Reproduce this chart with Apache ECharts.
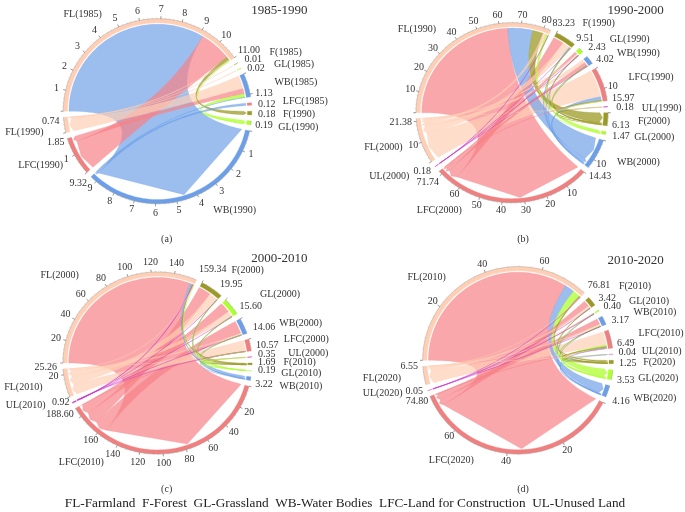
<!DOCTYPE html>
<html><head><meta charset="utf-8">
<style>html,body{margin:0;padding:0;background:#fff}#c{width:685px;height:512px}</style>
<script src="https://cdn.jsdelivr.net/npm/echarts@6/dist/echarts.min.js"></script>
</head><body><div id="c"></div>
<script>
// ---------- data ----------
const nodesA = ['FL(1985)','F(1985)','GL(1985)','WB(1985)','LFC(1985)','F(1990)','GL(1990)','WB(1990)','LFC(1990)','FL(1990)'];
const totalsA = ['11.00','0.01','0.02','1.13','0.12','0.18','0.19','9.32','1.85','0.74'];
const tickLabelsA = [[1,2,3,4,5,6,7,8,9,10],[],[],[],[],[],[],[1,2,3,4,5,6,7,8,9],[1],[]];
const linksA = [['FL','WB',9.18],['FL','LFC',1.58],['FL','F',0.18],['FL','FL',0.04],['FL','GL',0.02],
  ['F','FL',0.01],['GL','FL',0.02],
  ['WB','FL',0.67],['WB','LFC',0.27],['WB','GL',0.17],['WB','WB',0.02],
  ['LFC','WB',0.12]];

const nodesB = ['FL(1990)','F(1990)','GL(1990)','WB(1990)','LFC(1990)','UL(1990)','F(2000)','GL(2000)','WB(2000)','LFC(2000)','UL(2000)','FL(2000)'];
const totalsB = ['83.23','9.51','2.43','4.02','15.97','0.18','6.13','1.47','14.43','71.74','0.18','21.38'];
const tickLabelsB = [[10,20,30,40,50,60,70,80],[],[],[],[10],[],[],[],[10],[10,20,30,40,50,60],[],[10]];
const linksB = [['FL','LFC',63.84],['FL','WB',11.76],['FL','F',4.9],['FL','FL',1.5],['FL','GL',1.1],['FL','UL',0.13],
  ['F','LFC',5.0],['F','FL',3.6],['F','WB',0.5],['F','F',0.2],['F','GL',0.2],['F','UL',0.01],
  ['GL','LFC',1.2],['GL','FL',0.8],['GL','WB',0.2],['GL','F',0.2],['GL','UL',0.03],
  ['WB','FL',1.8],['WB','LFC',1.6],['WB','F',0.3],['WB','WB',0.21],['WB','GL',0.1],['WB','UL',0.01],
  ['LFC','FL',13.63],['LFC','WB',1.76],['LFC','F',0.41],['LFC','LFC',0.1],['LFC','GL',0.07],
  ['UL','F',0.13],['UL','FL',0.05]];

const nodesC = ['FL(2000)','F(2000)','GL(2000)','WB(2000)','LFC(2000)','UL(2000)','F(2010)','GL(2010)','WB(2010)','LFC(2010)','UL(2010)','FL(2010)'];
const totalsC = ['159.34','19.95','15.60','14.06','10.57','0.35','1.69','0.19','3.22','188.60','0.92','25.26'];
const tickLabelsC = [[20,40,60,80,100,120,140],[],[],[],[],[],[],[],[],[20,40,60,80,100,120,140,160],[],[20]];
const linksC = [['FL','LFC',155.3],['FL','WB',1.9],['FL','F',0.9],['FL','UL',0.64],['FL','FL',0.5],['FL','GL',0.1],
  ['F','LFC',11.5],['F','FL',7.8],['F','WB',0.3],['F','F',0.2],['F','UL',0.13],['F','GL',0.02],
  ['GL','LFC',9.7],['GL','FL',5.2],['GL','WB',0.3],['GL','F',0.3],['GL','UL',0.07],['GL','GL',0.03],
  ['WB','LFC',12.0],['WB','FL',1.3],['WB','WB',0.5],['WB','F',0.2],['WB','UL',0.05],['WB','GL',0.01],
  ['LFC','FL',10.16],['LFC','WB',0.22],['LFC','LFC',0.1],['LFC','F',0.05],['LFC','UL',0.03],['LFC','GL',0.01],
  ['UL','FL',0.30],['UL','F',0.04],['UL','GL',0.01]];

const nodesD = ['FL(2010)','F(2010)','GL(2010)','WB(2010)','LFC(2010)','UL(2010)','F(2020)','GL(2020)','WB(2020)','LFC(2020)','UL(2020)','FL(2020)'];
const totalsD = ['76.81','3.42','0.40','3.17','6.49','0.04','1.25','3.53','4.16','74.80','0.05','6.55'];
const tickLabelsD = [[20,40,60],[],[],[],[],[],[],[],[],[20,40,60],[],[]];
const linksD = [['FL','LFC',69.9],['FL','WB',3.6],['FL','GL',2.7],['FL','F',0.5],['FL','FL',0.1],['FL','UL',0.01],
  ['F','LFC',2.3],['F','FL',0.8],['F','WB',0.1],['F','GL',0.1],['F','F',0.1],['F','UL',0.02],
  ['GL','LFC',0.2],['GL','FL',0.1],['GL','F',0.05],['GL','GL',0.03],['GL','WB',0.01],['GL','UL',0.01],
  ['WB','LFC',2.2],['WB','FL',0.55],['WB','GL',0.2],['WB','WB',0.15],['WB','F',0.05],['WB','UL',0.02],
  ['LFC','FL',5.0],['LFC','GL',0.5],['LFC','F',0.49],['LFC','WB',0.3],['LFC','LFC',0.2],
  ['UL','F',0.02],['UL','FL',0.01],['UL','WB',0.01]];

const titles = ['1985-1990','1990-2000','2000-2010','2010-2020'];
const captions = ['(a)','(b)','(c)','(d)'];
const legendText = 'FL-Farmland  F-Forest  GL-Grassland  WB-Water Bodies  LFC-Land for Construction  UL-Unused Land';

// ---------- layout & style (not data) ----------
const ringColors = {FL:'#FFCFB5',F:'#9C9A24',GL:'#ADFF2F',WB:'#6C9FE8',LFC:'#F08080',UL:'#CC33CC'};
const ribbonColors = {FL:'rgba(255,207,181,.7)',F:'rgba(156,154,36,.75)',GL:'rgba(173,255,47,.75)',WB:'rgba(108,159,232,.68)',LFC:'rgba(246,130,136,.7)',UL:'rgba(204,51,204,.75)'};
const R = {outer:1,inner:.955,src:.94,tip:.945,corner:.915,axis:1.2};
const frames = [
 {cx:157.5,cy:111.2,rx:94.2,ry:92.5,pad:3.7,step:1,labelR:1.10,offset:[0,0],
  names:[[248,44],[857,158],[882,192],[888,246],[916,305],[897,343],[895,381],[704,632],[122,495],[73,396]],
  totals:[[747,152],[760,177],[768,204],[792,281],[800,312],[800,343],[792,376],[235,550],[167,426],[152,364]],
  title:[838,33],cap:[500,718]},
 {cx:512,cy:112.7,rx:96,ry:90,pad:3.7,step:10,labelR:1.09,offset:[345,0],
  names:[[216,88],[761,71],[854,118],[880,161],[918,231],[950,324],[927,365],[928,413],[880,487],[283,631],[133,530],[115,443]],
  totals:[[656,70],[720,116],[756,143],[780,177],[835,296],[840,323],[827,376],[828,408],[765,530],[248,547],[232,513],[167,366]],
  title:[872,33],cap:[534,718]},
 {cx:157.5,cy:363,rx:94.5,ry:91,pad:3.7,step:20,labelR:1.11,offset:[0,245],
  names:[[179,90],[743,77],[840,148],[902,236],[919,284],[925,324],[899,353],[904,385],[903,423],[244,651],[77,481],[70,428]],
  totals:[[638,72],[694,118],[752,184],[792,246],[802,301],[800,328],[800,352],[800,377],[792,417],[180,507],[182,472],[137,366]],
  title:[838,40],cap:[500,733]},
 {cx:518,cy:360.3,rx:95.3,ry:93.7,pad:3.7,step:20,labelR:1.09,offset:[345,245],
  names:[[245,97],[870,124],[912,169],[930,203],[948,265],[950,318],[943,353],[940,401],[930,459],[319,646],[113,445],[111,401]],
  totals:[[762,120],[787,160],[802,185],[826,226],[842,296],[847,322],[848,354],[842,406],[828,469],[216,468],[208,439],[193,365]],
  title:[872,46],cap:[534,733]}
];
const panels = [
 {nodes:nodesA,totals:totalsA,ticks:tickLabelsA,links:linksA},
 {nodes:nodesB,totals:totalsB,ticks:tickLabelsB,links:linksB},
 {nodes:nodesC,totals:totalsC,ticks:tickLabelsC,links:linksC},
 {nodes:nodesD,totals:totalsD,ticks:tickLabelsD,links:linksD}
];

// ---------- chord bookkeeping, all in axis units ----------
function buildPanel(p, f){
  const n = p.nodes.length, half = n/2;
  const vals = p.totals.map(Number);
  const sum = vals.reduce((a,b)=>a+b,0);
  const pad = f.pad*sum/(360-n*f.pad);
  const keys = p.nodes.map(s=>s.split('(')[0]);
  let pos = 0;
  const nodes = p.nodes.map((name,i)=>{const o={name,key:keys[i],start:pos,end:pos+vals[i],val:vals[i]};pos+=vals[i]+pad;return o;});
  const links = p.links.map(l=>{
    const s = keys.indexOf(l[0]);
    const t = keys.indexOf(l[1],half);
    return {s,t,v:l[2],key:l[1]};
  });
  nodes.forEach((nd,i)=>{
    let a = nd.start;
    const side = i<half?'s':'t';
    links.filter(l=>l[side]===i).sort((x,y)=>y.v-x.v).forEach(l=>{
      l[side+'0']=a; a+=l.v; l[side+'1']=a;
    });
  });
  links.sort((x,y)=>y.v-x.v);
  return {nodes,links,axisMax:pos};
}
const built = panels.map((p,i)=>buildPanel(p,frames[i]));

function mapper(api,f){
  const c = api.coord([0,0]);
  const sx = f.rx/f.ry;
  return (r,a)=>{const q=api.coord([r,a]);return [c[0]+(q[0]-c[0])*sx,q[1]];};
}
function arcPts(P,r,a0,a1,cnt){const out=[];for(let i=0;i<=cnt;i++){out.push(P(r,a0+(a1-a0)*i/cnt));}return out;}
function quadPts(A,C,B,cnt){const out=[];for(let i=1;i<cnt;i++){const t=i/cnt,u=1-t;out.push([u*u*A[0]+2*u*t*C[0]+t*t*B[0],u*u*A[1]+2*u*t*C[1]+t*t*B[1]]);}return out;}

const series=[],polar=[],angleAxis=[],radiusAxis=[],graphic=[];
const font=(s)=>s+'px "Liberation Serif", "Times New Roman", serif';
built.forEach((b,pi)=>{
  const f=frames[pi],p=panels[pi];
  polar.push({center:[f.cx,f.cy],radius:[0,f.ry*R.axis]});
  angleAxis.push({polarIndex:pi,type:'value',min:0,max:b.axisMax,startAngle:180,clockwise:true,show:false,splitLine:{show:false}});
  radiusAxis.push({polarIndex:pi,type:'value',min:0,max:R.axis,show:false,splitLine:{show:false}});
  const deg=360/b.axisMax;
  // ribbons
  series.push({type:'custom',coordinateSystem:'polar',polarIndex:pi,silent:true,animation:false,clip:false,z:2,
    data:b.links.map(l=>[1,l.v]),encode:{radius:0,angle:1},
    renderItem(params,api){
      const l=b.links[params.dataIndex],P=mapper(api,f),C=P(0,0);
      const steps=a=>Math.max(2,Math.ceil(Math.abs(a)*deg/2));
      const arc=arcPts(P,R.src,l.s0,l.s1,steps(l.v));
      const tA=P(R.corner,l.t0),tB=P(R.corner,l.t1),tip=P(R.tip,(l.t0+l.t1)/2);
      const pts=arc.concat(quadPts(arc[arc.length-1],C,tA,40),[tA,tip,tB],quadPts(tB,C,arc[0],40));
      const col=ribbonColors[l.key];
      return {type:'polygon',shape:{points:pts},style:{fill:col,stroke:col,lineWidth:.35}};
    }});
  // rings with ticks
  series.push({type:'custom',coordinateSystem:'polar',polarIndex:pi,silent:true,animation:false,clip:false,z:3,
    data:b.nodes.map(n=>[1,n.val]),encode:{radius:0,angle:1},
    renderItem(params,api){
      const i=params.dataIndex,n=b.nodes[i],P=mapper(api,f),kids=[];
      const cnt=Math.max(2,Math.ceil(n.val*deg/2));
      const ring=arcPts(P,R.outer,n.start,n.end,cnt).concat(arcPts(P,R.inner,n.end,n.start,cnt));
      kids.push({type:'polygon',shape:{points:ring},style:{fill:ringColors[n.key],stroke:ringColors[n.key],lineWidth:.3}});
      kids.push({type:'polyline',shape:{points:arcPts(P,R.outer,n.start,n.end,cnt)},style:{fill:null,stroke:'#999',lineWidth:.4}});
      const minor=f.step/5;
      if(n.val>=f.step*0.5){
        for(let k=0;k*minor<=n.val;k++){
          const a=n.start+k*minor,maj=k%5===0;
          const A=P(R.outer,a),B=P(R.outer+(maj?.028:.012),a);
          kids.push({type:'line',shape:{x1:A[0],y1:A[1],x2:B[0],y2:B[1]},style:{stroke:maj?'#555':'#999',lineWidth:maj?.6:.35}});
        }
      }
      p.ticks[i].forEach(v=>{
        const q=P(f.labelR,n.start+v);
        kids.push({type:'text',style:{text:String(v),x:q[0],y:q[1],align:'center',verticalAlign:'middle',textAlign:'center',textVerticalAlign:'middle',font:font(10),fill:'#333'}});
      });
      return {type:'group',children:kids};
    }});
  // text placed by hand
  const put=(text,pos,size)=>graphic.push({type:'text',silent:true,x:f.offset[0]+pos[0]/3,y:f.offset[1]+pos[1]/3,
    style:{text,font:font(size),fill:'#333',align:'center',verticalAlign:'middle',textAlign:'center',textVerticalAlign:'middle'}});
  p.nodes.forEach((nm,i)=>put(nm,f.names[i],10));
  p.totals.forEach((t,i)=>put(t,f.totals[i],10));
  put(titles[pi],f.title,13);
  put(captions[pi],f.cap,10);
});
graphic.push({type:'text',silent:true,x:345,y:504,style:{text:legendText,font:font(13.25),fill:'#222',align:'center',verticalAlign:'middle',textAlign:'center',textVerticalAlign:'middle'}});

const chart=echarts.init(document.getElementById('c'),null,{renderer:'canvas'});
chart.setOption({animation:false,backgroundColor:'#fff',polar,angleAxis,radiusAxis,series,graphic});
</script></body></html>
